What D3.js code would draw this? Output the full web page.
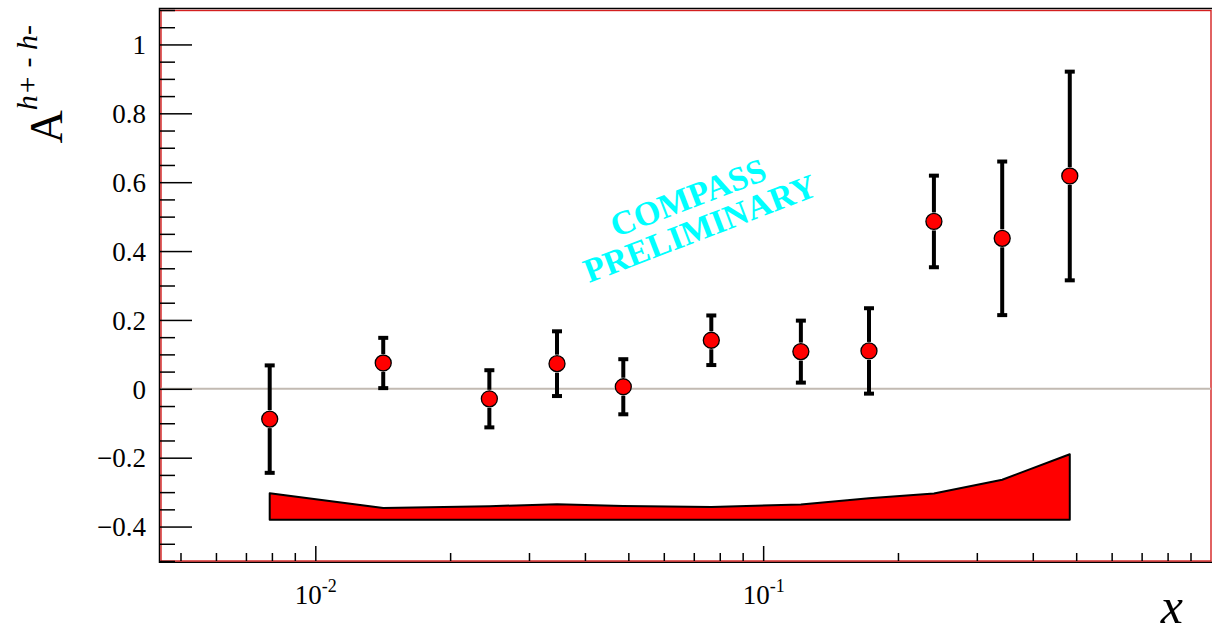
<!DOCTYPE html>
<html>
<head>
<meta charset="utf-8">
<script src="https://cdn.jsdelivr.net/npm/d3@7"></script>
<style>
  html, body { margin: 0; padding: 0; background: #fff; }
  svg, svg text { font-family: "Liberation Serif", "Times New Roman", Times, serif; }
</style>
</head>
<body>
<div class="chart"></div>
<script>
// measured points: x bin centre, asymmetry, stat. error
const xVals  = [0.00791, 0.01418, 0.02447, 0.03465, 0.04872, 0.0766, 0.1214, 0.1723, 0.2406, 0.3418, 0.4838];
const aVals  = [-0.088, 0.075, -0.029, 0.073, 0.006, 0.141, 0.108, 0.110, 0.486, 0.437, 0.618];
const aErr   = [0.156, 0.073, 0.083, 0.094, 0.080, 0.072, 0.090, 0.124, 0.133, 0.223, 0.303];
// systematic band (top edge) and its base
const sysTop = [-0.303, -0.346, -0.341, -0.335, -0.340, -0.343, -0.336, -0.318, -0.304, -0.264, -0.190];
const sysBase = -0.38;

const yMajor = [-0.4, -0.2, 0, 0.2, 0.4, 0.6, 0.8, 1];
const xMajor = [0.01, 0.1];
const xMajorLabels = ['-2', '-1'];
const xMinor = [0.005, 0.006, 0.007, 0.008, 0.009,
                0.02, 0.03, 0.04, 0.05, 0.06, 0.07, 0.08, 0.09,
                0.2, 0.3, 0.4, 0.5, 0.6, 0.7, 0.8, 0.9];

const serif = '"Liberation Serif", "Times New Roman", Times, serif';

let w = 1212,
    h = 634,
    L = 160, R = 1211, T = 10, B = 561;

const svg = d3.select('.chart')
              .append('svg')
              .attr('width', w)
              .attr('height', h)
              .attr('font-family', serif)

const x = d3.scaleLog()
            .domain([0.0045, 1])
            .range([L, R])

const y = d3.scaleLinear()
            .domain([-0.5, 1.1])
            .range([B, T])

// frame: black outer line, red pad frame
svg.append('path')
   .attr('d', `M${w+2},${T-1.5} H${L-0.5} V${B+1.2} H${w+2}`)
   .attr('fill', 'none')
   .attr('stroke', '#000')
   .attr('stroke-width', 1.5)

svg.append('rect')
   .attr('x', L + 1).attr('y', T + 0.5)
   .attr('width', R - L - 1).attr('height', B - T - 0.5)
   .attr('fill', 'none')
   .attr('stroke', '#d42020')
   .attr('stroke-width', 1.4)

// zero line
svg.append('line')
   .attr('x1', L + 1).attr('x2', R)
   .attr('y1', y(0)).attr('y2', y(0))
   .attr('stroke', '#c2bab2')
   .attr('stroke-width', 2)

// systematic band
const area = d3.area()
               .x((d, i) => x(xVals[i]))
               .y0(y(sysBase))
               .y1(d => y(d))

svg.append('path')
   .datum(sysTop)
   .attr('d', area)
   .attr('fill', '#ff0000')
   .attr('stroke', '#000')
   .attr('stroke-width', 2)
   .attr('stroke-linejoin', 'round')

// y axis: major + minor ticks pointing inward
const yMinor = d3.range(-0.5, 1.1001, 0.05).map(v => +v.toFixed(2))
                 .filter(v => !yMajor.some(m => Math.abs(m - v) < 1e-6));

svg.append('g')
   .attr('transform', `translate(${L},0)`)
   .call(d3.axisLeft(y).tickValues(yMinor).tickSize(-15).tickFormat(''))
   .call(g => g.select('.domain').remove())
   .call(g => g.selectAll('line').attr('stroke-width', 1.5))

svg.append('g')
   .attr('transform', `translate(${L},0)`)
   .call(d3.axisLeft(y).tickValues(yMajor).tickSize(-32).tickPadding(14)
           .tickFormat(d => d === 0 ? '0' : d3.format('')(+d.toFixed(1))))
   .call(g => g.select('.domain').remove())
   .call(g => g.attr('font-family', serif).attr('font-size', 27))
   .call(g => g.selectAll('line').attr('stroke-width', 1.5))
   .call(g => g.selectAll('text')
               .attr('fill', '#000')
               .attr('dy', '0.34em'))

// x axis
svg.append('g')
   .attr('transform', `translate(0,${B})`)
   .call(d3.axisBottom(x).tickValues(xMinor).tickSize(-8).tickFormat(''))
   .call(g => g.select('.domain').remove())
   .call(g => g.selectAll('line').attr('stroke-width', 1.5))

svg.append('g')
   .attr('transform', `translate(0,${B})`)
   .call(d3.axisBottom(x).tickValues(xMajor).tickSize(-15).tickFormat(''))
   .call(g => g.select('.domain').remove())
   .call(g => g.attr('font-family', serif).attr('font-size', 27))
   .call(g => g.selectAll('line').attr('stroke-width', 1.5))
   .call(g => g.selectAll('.tick text')
               .attr('y', 43)
               .attr('dy', 0)
               .attr('fill', '#000')
               .each(function(d, i) {
                  const t = d3.select(this);
                  t.append('tspan').text('10');
                  t.append('tspan').attr('font-size', 18).attr('dy', -12).text(xMajorLabels[i]);
               }))

// error bars, broken around the marker
const r = 8;
const bars = svg.append('g')

xVals.forEach((xv, i) => {
  const cx = x(xv),
        cy = y(aVals[i]),
        top = y(aVals[i] + aErr[i]),
        bot = y(aVals[i] - aErr[i]);

  if (top < cy - r - 1) {
    bars.append('line').attr('x1', cx).attr('x2', cx)
        .attr('y1', top).attr('y2', cy - r - 1)
        .attr('stroke', '#000').attr('stroke-width', 4)
  }
  if (bot > cy + r + 1) {
    bars.append('line').attr('x1', cx).attr('x2', cx)
        .attr('y1', cy + r + 1).attr('y2', bot)
        .attr('stroke', '#000').attr('stroke-width', 4)
  }
  [top, bot].forEach(yy => {
    bars.append('line').attr('x1', cx - 5).attr('x2', cx + 5)
        .attr('y1', yy).attr('y2', yy)
        .attr('stroke', '#000').attr('stroke-width', 4)
  })
})

svg.append('g')
   .selectAll('circle')
   .data(aVals)
   .enter()
   .append('circle')
   .attr('cx', (d, i) => x(xVals[i]))
   .attr('cy', d => y(d))
   .attr('r', r)
   .attr('fill', '#ff0000')
   .attr('stroke', '#000')
   .attr('stroke-width', 1.3)

// preliminary stamp
const stamp = svg.append('g')
                 .attr('transform', 'translate(704,239) rotate(-21)')
                 .attr('fill', '#00ffff')
                 .attr('font-family', serif)
                 .attr('font-weight', 'bold')
                 .attr('font-size', 34)
                 .attr('text-anchor', 'middle')
stamp.append('text').attr('y', -33).text('COMPASS')
stamp.append('text').attr('y', 0).text('PRELIMINARY')

// axis titles
const yTitle = svg.append('text')
                  .attr('transform', 'translate(62,25) rotate(-90)')
                  .attr('text-anchor', 'end')
                  .attr('font-family', serif)
                  .attr('fill', '#000')
yTitle.append('tspan').attr('font-size', 46).text('A')
yTitle.append('tspan').attr('font-size', 30).attr('font-style', 'italic').attr('dy', -25)
      .text('h+ - h-')

svg.append('text')
   .attr('x', 1183)
   .attr('y', 623)
   .attr('text-anchor', 'end')
   .attr('font-family', serif)
   .attr('font-size', 50)
   .attr('font-style', 'italic')
   .attr('fill', '#000')
   .text('x')
</script>
</body>
</html>
